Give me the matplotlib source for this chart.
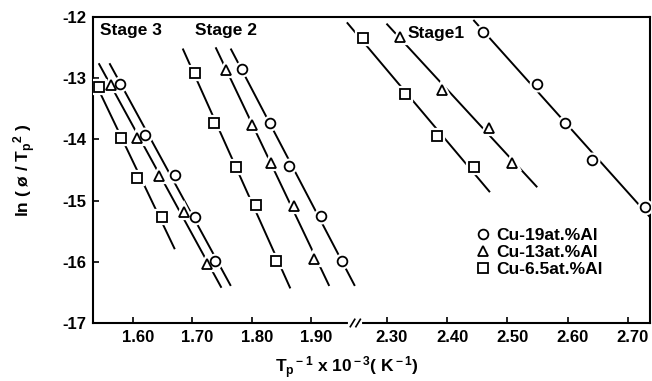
import numpy as np
import matplotlib.pyplot as plt
from matplotlib.transforms import ScaledTranslation

plt.rcParams['font.family'] = ['Liberation Sans', 'DejaVu Sans']
plt.rcParams['mathtext.fontset'] = 'custom'
plt.rcParams['mathtext.rm'] = 'Liberation Sans:bold'
plt.rcParams['mathtext.it'] = 'Liberation Sans:bold'

# Peak positions: x = Tp^-1 x 10^-3 (K^-1), y = ln(phi/Tp^2)
# Stage 3
s3_cu19_x = [1.579, 1.621, 1.671, 1.704, 1.738]
s3_cu19_y = [-13.09, -13.92, -14.58, -15.27, -15.99]
s3_cu13_x = [1.564, 1.607, 1.645, 1.687, 1.724]
s3_cu13_y = [-13.11, -13.97, -14.59, -15.19, -16.04]
s3_cu65_x = [1.543, 1.580, 1.607, 1.650]
s3_cu65_y = [-13.14, -13.97, -14.63, -15.27]

# Stage 2
s2_cu19_x = [1.784, 1.831, 1.862, 1.916, 1.951]
s2_cu19_y = [-12.85, -13.74, -14.44, -15.25, -15.99]
s2_cu13_x = [1.756, 1.801, 1.833, 1.871, 1.905]
s2_cu13_y = [-12.87, -13.77, -14.38, -15.09, -15.96]
s2_cu65_x = [1.704, 1.736, 1.774, 1.807, 1.841]
s2_cu65_y = [-12.92, -13.74, -14.45, -15.07, -15.98]

# Stage 1
s1_cu19_x = [2.459, 2.549, 2.596, 2.640, 2.728]
s1_cu19_y = [-12.25, -13.10, -13.74, -14.33, -15.11]
s1_cu13_x = [2.322, 2.391, 2.470, 2.508]
s1_cu13_y = [-12.32, -13.19, -13.81, -14.38]
s1_cu65_x = [2.260, 2.331, 2.383, 2.444]
s1_cu65_y = [-12.35, -13.25, -13.94, -14.45]

# ln(phi/Tp^2) range covered by each fitted line (top, bottom)
s3_cu19_span = [-12.77, -16.38]
s3_cu13_span = [-12.77, -16.41]
s3_cu65_span = [-12.80, -15.78]
s2_cu19_span = [-12.53, -16.38]
s2_cu13_span = [-12.51, -16.38]
s2_cu65_span = [-12.53, -16.42]
s1_cu19_span = [-12.06, -15.50]
s1_cu13_span = [-12.12, -14.77]
s1_cu65_span = [-12.10, -14.85]

alloys = ['Cu-19at.%Al', 'Cu-13at.%Al', 'Cu-6.5at.%Al']
markers = ['o', '^', 's']
xticks = [1.60, 1.70, 1.80, 1.90, 2.30, 2.40, 2.50, 2.60, 2.70]
yticks = [-12, -13, -14, -15, -16, -17]

series = [
    (s3_cu19_x, s3_cu19_y, s3_cu19_span, 0),
    (s3_cu13_x, s3_cu13_y, s3_cu13_span, 1),
    (s3_cu65_x, s3_cu65_y, s3_cu65_span, 2),
    (s2_cu19_x, s2_cu19_y, s2_cu19_span, 0),
    (s2_cu13_x, s2_cu13_y, s2_cu13_span, 1),
    (s2_cu65_x, s2_cu65_y, s2_cu65_span, 2),
    (s1_cu19_x, s1_cu19_y, s1_cu19_span, 0),
    (s1_cu13_x, s1_cu13_y, s1_cu13_span, 1),
    (s1_cu65_x, s1_cu65_y, s1_cu65_span, 2),
]

# Broken x axis: 1.977 -> 2.251 is cut out
x_lo, x_cut, x_resume, x_hi = 1.5333, 1.977, 2.251, 2.7365
k = 1.0134


def fwd(x):
    x = np.asarray(x, dtype=float)
    return np.where(x < 2.1, x, x_cut + (x - x_resume) * k)


def inv(u):
    u = np.asarray(u, dtype=float)
    return np.where(u < x_cut, u, x_resume + (u - x_cut) / k)


fig = plt.figure(figsize=(6.52, 3.81), dpi=100)
ax = fig.add_axes([93 / 652, 1 - 323 / 381, 557 / 652, 306 / 381])
ax.set_xscale('function', functions=(fwd, inv))

handles = {}
for xs, ys, span, i in series:
    # straight fit x = a*y + b drawn over the span
    a, b = np.polyfit(ys, xs, 1)
    yy = np.array(span)
    ax.plot(a * yy + b, yy, color='black', lw=1.4, zorder=2)
    ms = 7.8 if markers[i] == '^' else 7
    ax.plot(xs, ys, linestyle='none', marker=markers[i], ms=ms,
            mfc='white', mec='white', mew=4.5, zorder=3)
    h, = ax.plot(xs, ys, linestyle='none', marker=markers[i], ms=ms,
                 mfc='white', mec='black', mew=1.3, zorder=4)
    handles[i] = h

ax.set_xlim(x_lo, x_hi)
ax.set_ylim(-17, -12)
ax.set_xticks(xticks)
ax.set_xticklabels(['%.2f' % v for v in xticks])
ax.set_yticks(yticks)
ax.set_yticklabels(['%d' % v for v in yticks])
ax.minorticks_off()
ax.tick_params(direction='in', length=4, width=1.2, labelsize=12, pad=5)
shift = ScaledTranslation(0.05, 0, fig.dpi_scale_trans)
for lab in ax.get_xticklabels():
    lab.set_fontweight('bold')
    lab.set_transform(lab.get_transform() + shift)
for lab in ax.get_yticklabels():
    lab.set_fontweight('bold')
for sp in ax.spines.values():
    sp.set_linewidth(1.5)

# break marks on the bottom axis
bx = (357 - 93) / 557
ax.plot([bx - 0.012, bx + 0.006], [0, 0], color='white', lw=3,
        transform=ax.transAxes, clip_on=False, zorder=5)
for dx in (-0.008, 0.002):
    ax.plot([bx + dx - 0.004, bx + dx + 0.004], [-0.012, 0.012], color='black',
            lw=1.2, transform=ax.transAxes, clip_on=False, zorder=6)

ax.text(0.013, 0.955, 'Stage 3', transform=ax.transAxes, fontsize=12.5,
        fontweight='bold', va='center', ha='left')
ax.text(0.183, 0.955, 'Stage 2', transform=ax.transAxes, fontsize=12.5,
        fontweight='bold', va='center', ha='left')
ax.text(0.565, 0.945, 'Stage1', transform=ax.transAxes, fontsize=12.5,
        fontweight='bold', va='center', ha='left')

ax.legend([handles[0], handles[1], handles[2]], alloys, loc='upper left',
          bbox_to_anchor=(0.665, 0.35), frameon=False, handlelength=0.8,
          handletextpad=0.4, labelspacing=0.1, borderpad=0.2,
          prop={'size': 12.5, 'weight': 'bold'})

fig.text(25 / 652, 1 - 170 / 381, r'ln ( ø / T$_{\rm p}$$^{\rm 2}$ )',
         rotation=90, fontsize=12.5, fontweight='bold', ha='center', va='center')
fig.text(347 / 652, 1 - 368 / 381,
         r'T$_{\rm p}$$^{\rm -1}$ x 10$^{\rm -3}$( K$^{\rm -1}$)',
         fontsize=12.5, fontweight='bold', ha='center', va='center')

fig.savefig('out.png', dpi=100)
